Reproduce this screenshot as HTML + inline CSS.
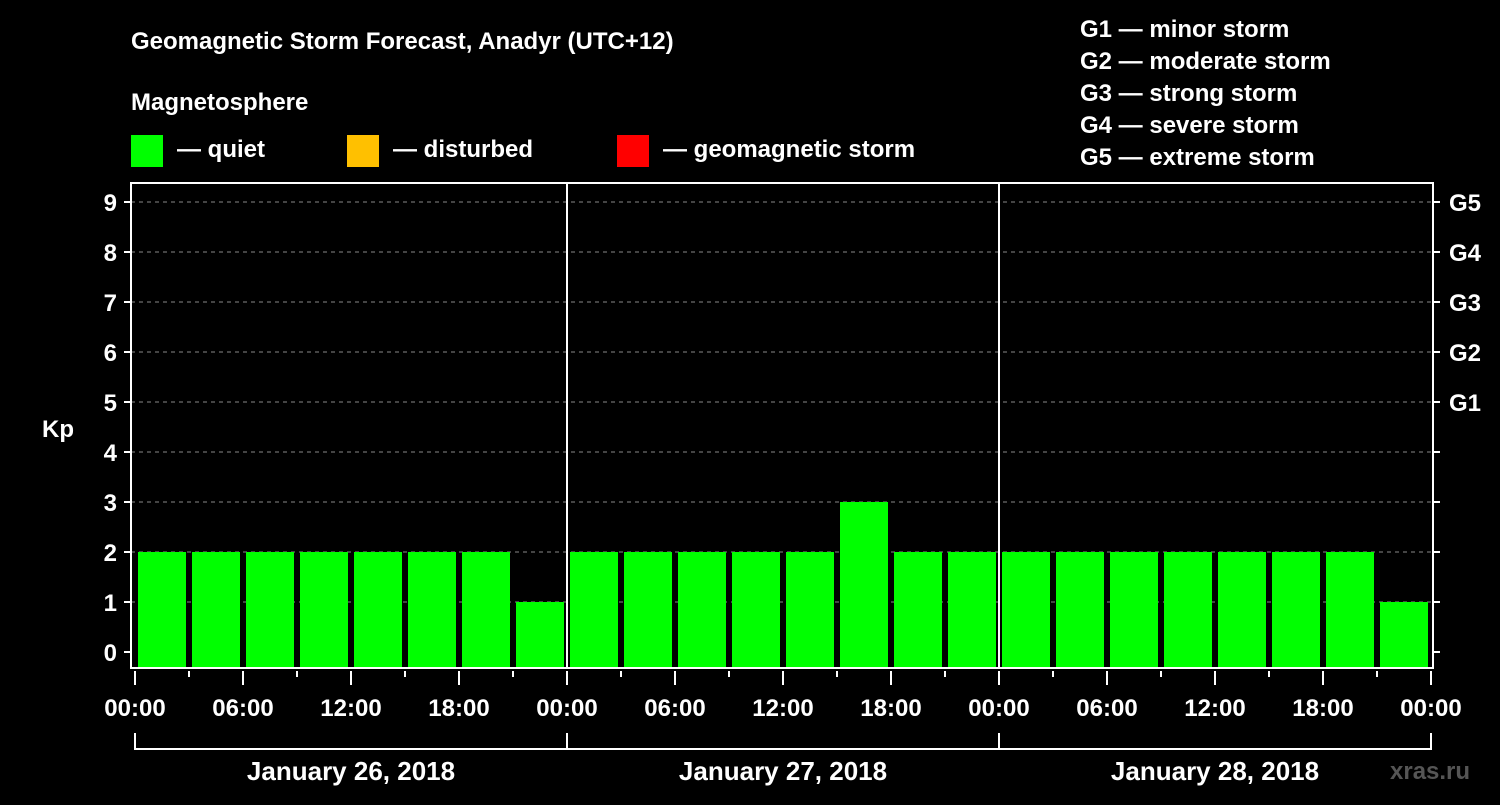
<!DOCTYPE html>
<html><head><meta charset="utf-8"><style>
body{margin:0;background:#000;width:1500px;height:800px;overflow:hidden}
svg text{font-family:"Liberation Sans",Arial,sans-serif;font-weight:bold;fill:#fff}
</style></head><body>
<svg id="c" width="1500" height="800">
<text x="131" y="49" font-size="24">Geomagnetic Storm Forecast, Anadyr (UTC+12)</text>
<text x="131" y="110" font-size="24">Magnetosphere</text>
<g><rect x="131" y="135" width="32" height="32" fill="#00ff00"/><text x="177" y="157" font-size="24">— quiet</text></g>
<g><rect x="347" y="135" width="32" height="32" fill="#ffc000"/><text x="393" y="157" font-size="24">— disturbed</text></g>
<g><rect x="617" y="135" width="32" height="32" fill="#ff0000"/><text x="663" y="157" font-size="24">— geomagnetic storm</text></g>
<g font-size="24">
<text x="1080" y="37">G1 — minor storm</text><text x="1080" y="69">G2 — moderate storm</text><text x="1080" y="101">G3 — strong storm</text><text x="1080" y="133">G4 — severe storm</text><text x="1080" y="165">G5 — extreme storm</text></g>
<text x="42" y="437" font-size="24">Kp</text>
<text x="1390" y="779" font-size="24" fill="#555" style="fill:#555">xras.ru</text>
<g id="g"></g>
</svg>
<script>
const kpValues=[2,2,2,2,2,2,2,1, 2,2,2,2,2,3,2,2, 2,2,2,2,2,2,2,1];
const yTicks=[0,1,2,3,4,5,6,7,8,9];
const gLabels=["G1","G2","G3","G4","G5"];
const gKp=[5,6,7,8,9];
const timeLabels=["00:00","06:00","12:00","18:00"];
const dayLabels=["January 26, 2018","January 27, 2018","January 28, 2018"];
const X0=135,SLOT=54,L=131,R=1433,T=183,B=668;
const x=i=>X0+i*SLOT, y=v=>652-v*50;
const g=document.getElementById('g'),NS='http://www.w3.org/2000/svg';
function mk(t,a,txt){const e=document.createElementNS(NS,t);for(const k in a)e.setAttribute(k,a[k]);if(txt!=null)e.textContent=txt;g.appendChild(e);return e;}
yTicks.forEach(v=>{
 if(v>0){const e=mk('line',{x1:L,x2:R,y1:y(v),y2:y(v),stroke:'#888','stroke-dasharray':'4,4','stroke-width':1});
 
 }
 const t1=mk('line',{x1:L-7,x2:L,y1:y(v),y2:y(v),stroke:'#fff','stroke-width':2});
 
 
 const t2=mk('line',{x1:R,x2:R+7,y1:y(v),y2:y(v),stroke:'#fff','stroke-width':2});
 
 
 const l=mk('text',{x:L-14,y:y(v)+9,'font-size':24,'text-anchor':'end'},String(v));
 
 
});
gLabels.forEach((s,i)=>{const l=mk('text',{x:1449,y:y(gKp[i])+9,'font-size':24},s);
 
 });
kpValues.forEach((v,i)=>{const c=v>=5?'#ff0000':v>=4?'#ffc000':'#00ff00';
 const r=mk('rect',{x:x(i)+3,y:y(v),width:48,height:B-y(v),fill:c});
 
 });
[1,2].forEach(d=>{const e=mk('line',{x1:x(d*8),x2:x(d*8),y1:T,y2:B,stroke:'#fff','stroke-width':2});
 
 });
const ax=mk('rect',{x:L,y:T,width:R-L,height:B-T,fill:'none',stroke:'#fff','stroke-width':2});


for(let i=0;i<=24;i++){const maj=i%2==0;
 const t=mk('line',{x1:x(i),x2:x(i),y1:B+3,y2:maj?B+17:B+9,stroke:'#fff','stroke-width':2});
 
 
 if(maj){const l=mk('text',{x:x(i),y:716,'font-size':24,'text-anchor':'middle'},i==24?timeLabels[0]:timeLabels[(i/2)%4]);
 
 }}
const br=mk('path',{d:`M${x(0)} 733V749H${x(24)}V733`,fill:'none',stroke:'#fff','stroke-width':2});


dayLabels.forEach((s,d)=>{
 if(d>0){const e=mk('line',{x1:x(d*8),x2:x(d*8),y1:733,y2:749,stroke:'#fff','stroke-width':2});
 
 }
 const l=mk('text',{x:x(d*8+4),y:780,'font-size':26,'text-anchor':'middle'},s);
 
 });
</script>
</body></html>
